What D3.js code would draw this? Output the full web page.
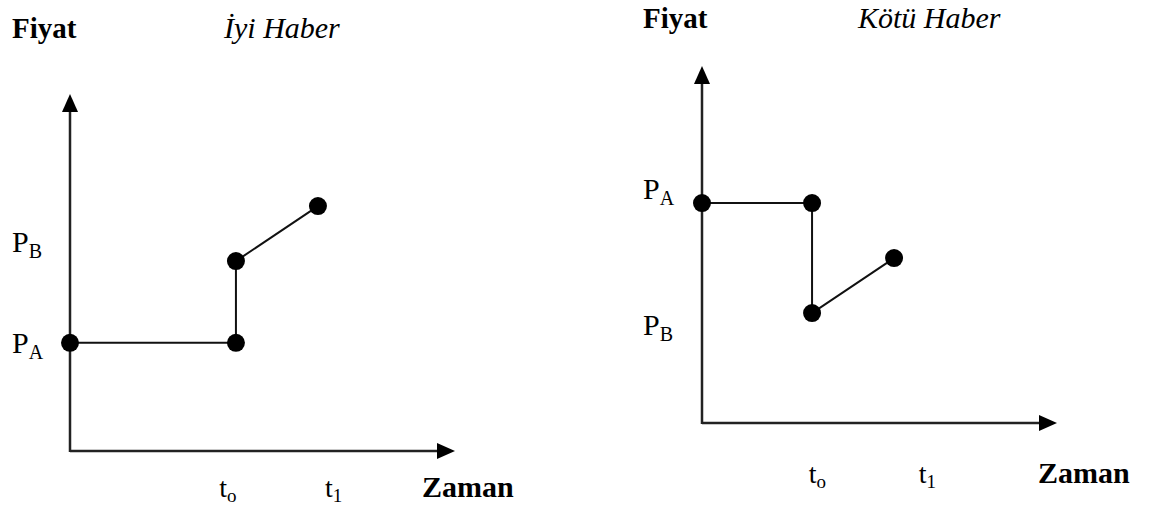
<!DOCTYPE html>
<html><head><meta charset="utf-8">
<script src="https://cdn.jsdelivr.net/npm/d3@7"></script>
<style>body{margin:0;background:#fff}svg{display:block}text{font-family:"Liberation Serif","Times New Roman",serif;fill:#000}</style>
</head><body>
<svg id="c" width="1150" height="508"></svg>
<script>
// Data (unit coordinates within each panel's axes)
const panelTitles = ["İyi Haber", "Kötü Haber"];
const yAxisLabel = "Fiyat";
const xAxisLabel = "Zaman";
// Left panel: good news
const goodTime  = [0, 0.431, 0.431, 0.644];
const goodPrice = [0.303, 0.303, 0.532, 0.686];
const goodPriceTicks = [{p:"P", s:"B", v:0.585}, {p:"P", s:"A", v:0.303}];
const goodTimeTicks  = [{p:"t", s:"o", v:0.41}, {p:"t", s:"1", v:0.685}];
// Right panel: bad news
const badTime  = [0, 0.31, 0.31, 0.541];
const badPrice = [0.616, 0.616, 0.308, 0.462];
const badPriceTicks = [{p:"P", s:"A", v:0.655}, {p:"P", s:"B", v:0.275}];
const badTimeTicks  = [{p:"t", s:"o", v:0.325}, {p:"t", s:"1", v:0.635}];

const svg = d3.select("#c");

function panel(cfg){
  const x = d3.scaleLinear().domain([0,1]).range([cfg.x0, cfg.x1]);
  const y = d3.scaleLinear().domain([0,1]).range([cfg.y0, cfg.y1]);
  const g = svg.append("g");
  g.append("line").attr("x1",x(0)).attr("y1",y(0)).attr("x2",x(1)-14).attr("y2",y(0)).attr("stroke","#222").attr("stroke-width",2.5);
  g.append("line").attr("x1",x(0)).attr("y1",y(0)+1).attr("x2",x(0)).attr("y2",y(1)+14).attr("stroke","#222").attr("stroke-width",2.5);
  g.append("path").attr("d",`M${x(1)},${y(0)} L${x(1)-18},${y(0)-8} L${x(1)-18},${y(0)+8}Z`).attr("fill","#000");
  g.append("path").attr("d",`M${x(0)},${y(1)} L${x(0)-8},${y(1)+18} L${x(0)+8},${y(1)+18}Z`).attr("fill","#000");
  const pts = cfg.t.map((t,i)=>[t, cfg.p[i]]);
  g.append("path").datum(pts).attr("d", d3.line().x(d=>x(d[0])).y(d=>y(d[1])))
    .attr("fill","none").attr("stroke","#111").attr("stroke-width",2);
  g.selectAll("circle").data(pts).join("circle")
    .attr("cx",d=>x(d[0])).attr("cy",d=>y(d[1])).attr("r",9).attr("fill","#000");
  cfg.pt.forEach(d=>{
    const t = g.append("text").attr("x",cfg.labX).attr("y",y(d.v)+10).attr("font-size",30);
    t.append("tspan").text(d.p);
    t.append("tspan").attr("font-size",20).attr("dy",6).text(d.s);
  });
  cfg.tt.forEach(d=>{
    const t = g.append("text").attr("x",x(d.v)).attr("y",cfg.tickY).attr("font-size",28).attr("text-anchor","middle");
    t.append("tspan").text(d.p);
    t.append("tspan").attr("font-size",19).attr("dy",5).text(d.s);
  });
  g.append("text").attr("x",cfg.zx).attr("y",cfg.tickY).attr("font-size",30).attr("font-weight","bold").text(xAxisLabel);
  g.append("text").attr("x",cfg.labX).attr("y",cfg.titleY).attr("font-size",29).attr("font-weight","bold").text(yAxisLabel);
  g.append("text").attr("x",cfg.titleX).attr("y",cfg.titleY).attr("font-size",30).attr("font-style","italic").text(cfg.title);
}

panel({x0:70,x1:455,y0:451,y1:94,t:goodTime,p:goodPrice,pt:goodPriceTicks,tt:goodTimeTicks,
  labX:12,tickY:497,zx:422,titleY:38,titleX:224,title:panelTitles[0]});
panel({x0:702,x1:1057,y0:423,y1:66,t:badTime,p:badPrice,pt:badPriceTicks,tt:badTimeTicks,
  labX:643,tickY:483,zx:1038,titleY:28,titleX:858,title:panelTitles[1]});
</script>
</body></html>
